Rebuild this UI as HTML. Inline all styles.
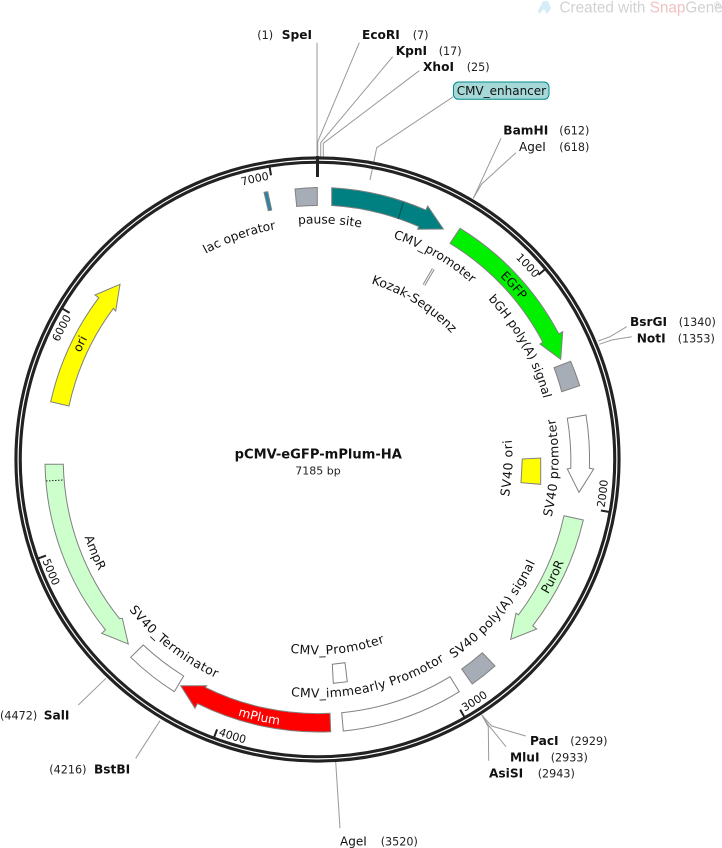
<!DOCTYPE html>
<html><head><meta charset="utf-8"><style>
html,body{margin:0;padding:0;background:#fff}
svg{display:block}
text{font-family:"DejaVu Sans","Liberation Sans",sans-serif;fill:#111}
.n{font-size:11.2px;fill:#222}
.b{font-size:12.2px;font-weight:bold}
.r{font-size:12px}
.f{font-size:12.3px;text-anchor:middle}
.g{font-size:12.5px;letter-spacing:.4px;text-anchor:middle}
.t{font-size:11px;text-anchor:middle}
.l{stroke:#999;stroke-width:1;fill:none}
.s{stroke:#808080;stroke-width:1}
.k{stroke:#222;stroke-width:2;fill:none}
</style></head><body>
<svg width="722" height="848" viewBox="0 0 722 848" xmlns="http://www.w3.org/2000/svg">
<defs>
<path id="a236" d="M317.5 695.5A236 236 0 1 1 317.5 223.5A236 236 0 1 1 317.5 695.5"/>
<path id="a234" d="M317.5 693.5A234 234 0 1 1 317.5 225.5A234 234 0 1 1 317.5 693.5"/>
<path id="a284" d="M317.5 743.5A284 284 0 1 1 317.5 175.5A284 284 0 1 1 317.5 743.5"/>
<path id="a282" d="M317.5 742A282.5 282.5 0 1 1 317.5 177A282.5 282.5 0 1 1 317.5 742"/>
<path id="a260" d="M317.5 719.5A260 260 0 1 1 317.5 199.5A260 260 0 1 1 317.5 719.5"/>
<path id="a258" d="M317.5 718A258.5 258.5 0 1 1 317.5 201A258.5 258.5 0 1 1 317.5 718"/>
<path id="a184" d="M317.5 643.5A184 184 0 1 1 317.5 275.5A184 184 0 1 1 317.5 643.5"/>
<path id="c245" d="M317.5 214A245.5 245.5 0 1 0 317.5 705A245.5 245.5 0 1 0 317.5 214"/>
<path id="c293" d="M317.5 166.5A293 293 0 1 0 317.5 752.5A293 293 0 1 0 317.5 166.5"/>
<path id="c241" d="M317.5 218.5A241 241 0 1 0 317.5 700.5A241 241 0 1 0 317.5 218.5"/>
<path id="c268" d="M317.5 191.5A268 268 0 1 0 317.5 727.5A268 268 0 1 0 317.5 191.5"/>
<path id="c238" d="M317.5 221.5A238 238 0 1 0 317.5 697.5A238 238 0 1 0 317.5 221.5"/>
<path id="c195" d="M317.5 264.5A195 195 0 1 0 317.5 654.5A195 195 0 1 0 317.5 264.5"/>
<path id="c267" d="M317.5 192.5A267 267 0 1 0 317.5 726.5A267 267 0 1 0 317.5 192.5"/>
<path id="c291" d="M317.5 168.5A291 291 0 1 0 317.5 750.5A291 291 0 1 0 317.5 168.5"/>
<path id="c292" d="M317.5 167.5A292 292 0 1 0 317.5 751.5A292 292 0 1 0 317.5 167.5"/>
</defs>

<!-- watermark -->
<path d="M543 1L548 1L551 8L547 14L544 9L539 14L538 11Z" fill="#d6ecf6"/>
<text x="559.5" y="12.5" style="font-family:'Liberation Sans',sans-serif;font-size:15.3px;fill:#d2d2d2">Created with <tspan style="fill:#f0c2c2">Snap</tspan>Gene</text>
<text x="714" y="8" style="font-family:'Liberation Sans',sans-serif;font-size:9px;fill:#cfcfcf">®</text>

<!-- enzyme lines -->
<path class="l" d="M317 42.7V157"/>
<path class="l" d="M359.3 42.7L317.7 141.7V157"/>
<path class="l" d="M392.7 56.7L320.7 142.7V157"/>
<path class="l" d="M419.3 70.7L323.3 143.3V158"/>
<path class="l" d="M453.3 96.7L376.7 147.7L370 180"/>
<path class="l" d="M501 138.3L473.3 198.3"/>
<path class="l" d="M516 152.7L481.7 184L473.3 198.3"/>
<path class="l" d="M626.7 326.7L610 336.7L598.3 341"/>
<path class="l" d="M631.7 336.7L611.7 340L599.3 344.3"/>
<path class="l" d="M525.7 736L491.7 726L481.7 715"/>
<path class="l" d="M506 746.7L488.3 725L481.7 715"/>
<path class="l" d="M488.7 760.7L488.3 726.7L482.3 716"/>
<path class="l" d="M340 828.3L335.7 762"/>
<path class="l" d="M78.3 705L106 678.3"/>
<path class="l" d="M135.7 758.3L160 720.7"/>

<!-- backbone -->
<circle cx="317.5" cy="459.5" r="299.4" fill="none" stroke="#222" stroke-width="7.4"/>
<circle cx="317.5" cy="459.5" r="299.4" fill="none" stroke="#fff" stroke-width="1.2"/>

<!-- ticks -->
<path d="M317.5 156V177" stroke="#222" stroke-width="3" fill="none"/>
<path class="k" d="M544.6 269.6L538.5 274.8"/>
<path class="k" d="M608.8 511.9L600.9 510.5"/>
<path class="k" d="M464.2 716.6L460.2 709.7"/>
<path class="k" d="M214.3 736.9L217.1 729.4"/>
<path class="k" d="M38.5 558.3L46 555.6"/>
<path class="k" d="M62.7 308.8L69.6 312.9"/>
<path class="k" d="M269.7 167.4L271 175.3"/>

<!-- features -->
<path class="s" fill="#a7adb6" d="M295 189A272 272 0 0 1 317.3 187.5V205.5A254 254 0 0 0 296.7 206.4Z"/>
<path class="s" fill="#2a84a6" d="M264 192.3L267.7 191.7L271.7 210L268.3 210.7Z"/>
<path class="s" fill="#008080" stroke="#666" d="M331.7 187.7A272 272 0 0 1 425.9 210.1L427.7 206L443.3 229L417.7 229.3L418.8 226.6A254 254 0 0 0 331.7 205.5Z"/>
<path d="M403.3 202.3L398.3 219" stroke="#004f4f" stroke-width="1" fill="none"/>
<path class="s" fill="#00f000" d="M460 228.3A272 272 0 0 1 558.8 333.9L562.7 331.7L560.7 359.3L540 344L542.8 342.2A254 254 0 0 0 450 243.3Z"/>
<path class="s" fill="#a7adb6" d="M570.7 361.3A272 272 0 0 1 579.7 385.7L561.7 391.7A254 254 0 0 0 554 367.7Z"/>
<path class="s" fill="#fff" d="M586 415A272 272 0 0 1 589.4 468.3L593.7 469L579 492.3L567.3 469L570.8 468.3A254 254 0 0 0 567.3 418.3Z"/>
<path class="s" fill="#ffff00" d="M522.3 459L540.7 458L540.7 484.3L521 482.7Z"/>
<path class="s" fill="#ccffcc" d="M583.3 520A272 272 0 0 1 532.7 625.8L536.7 629L510.7 639.3L516 613.3L518.5 614.8A254 254 0 0 0 564 515.7Z"/>
<path class="s" fill="#a7adb6" d="M495 666A272 272 0 0 1 472.3 684L461.7 669A254 254 0 0 0 482.3 652.7Z"/>
<path class="s" fill="#fff" d="M459.3 691.7A272 272 0 0 1 343.3 731L341.7 712.7A254 254 0 0 0 450 676.7Z"/>
<path class="s" fill="#fff" d="M332.3 664.3L345 662.7L347.3 681.7L333.3 683.3Z"/>
<path class="s" fill="#ff0000" stroke="#666" d="M330.7 731.7A272 272 0 0 1 197.4 703.6L195 708.3L180.7 685.7L206.7 685.7L205.4 687.4A254 254 0 0 0 330 713.3Z"/>
<path class="s" fill="#fff" d="M174.3 691.7A272 272 0 0 1 130.7 657.3L143.3 645A254 254 0 0 0 183.7 676Z"/>
<path class="s" fill="#ccffcc" d="M63.3 464.3L45 464.3A272 272 0 0 0 105.5 629.9L101.7 633.3L128.3 644L122.3 618.3L119.6 618.7A254 254 0 0 1 63.3 464.3Z"/>
<path d="M46 481L63.3 480" stroke="#222" stroke-width="1" stroke-dasharray="1.5 1.5" fill="none"/>
<path class="s" fill="#ffff00" d="M50.7 401.7A272 272 0 0 1 98.8 297.7L95 295L120 284.3L115.7 311L113.3 308.4A254 254 0 0 0 69 406Z"/>
<!-- Kozak -->
<path d="M433.3 269L424 285" stroke="#888" stroke-width="3" fill="none"/>
<path d="M433.3 269L424 285" stroke="#fff" stroke-width="1" fill="none"/>

<!-- CMV_enhancer box -->
<rect x="453.5" y="82" width="95.5" height="17.3" rx="5" ry="5" fill="#a6d8d8" stroke="#008b8b" stroke-width="1"/>
<text x="456.7" y="95.2" style="font-size:12px">CMV_enhancer</text>

<!-- clockwise labels -->
<text class="f"><textPath href="#a236" startOffset="50.83%">pause site</textPath></text>
<text class="f"><textPath href="#a234" startOffset="58.33%">CMV_promoter</textPath></text>
<text class="f"><textPath href="#a234" startOffset="44.61%">lac operator</textPath></text>
<text class="t"><textPath href="#a284" startOffset="46.5%">7000</textPath></text>
<text class="t"><textPath href="#a284" startOffset="32.56%">6000</textPath></text>
<text class="t"><textPath href="#a282" startOffset="63.14%">1000</textPath></text>
<text class="f"><textPath href="#a260" startOffset="32.22%">ori</textPath></text>
<text class="f"><textPath href="#a258" startOffset="63.44%">EGFP</textPath></text>
<text class="f"><textPath href="#a234" startOffset="66.9%">bGH poly(A) signal</textPath></text>
<text class="f" style="font-size:12.6px"><textPath href="#a184" startOffset="58.85%">Kozak-Sequenz</textPath></text>

<!-- counter-clockwise labels -->
<text class="f"><textPath href="#c245" startOffset="31.31%">AmpR</textPath></text>
<text class="t"><textPath href="#c293" startOffset="31.36%">5000</textPath></text>
<text class="g"><textPath href="#c241" startOffset="39.4%">SV40_Terminator</textPath></text>
<text class="t"><textPath href="#c293" startOffset="45.25%">4000</textPath></text>
<text class="f" style="fill:#fff"><textPath href="#c268" startOffset="46.46%">mPlum</textPath></text>
<text class="g" style="letter-spacing:.3px"><textPath href="#c238" startOffset="53.6%">CMV_immearly Promotor</textPath></text>
<text class="g"><textPath href="#c195" startOffset="51.7%">CMV_Promoter</textPath></text>
<text class="g" style="letter-spacing:.3px"><textPath href="#c241" startOffset="63.75%">SV40 poly(A) signal</textPath></text>
<text class="f"><textPath href="#c267" startOffset="67.64%">PuroR</textPath></text>
<text class="t"><textPath href="#c291" startOffset="73.11%">2000</textPath></text>
<text class="t"><textPath href="#c292" startOffset="59.17%">3000</textPath></text>
<text class="g"><textPath href="#c241" startOffset="74.44%">SV40 promoter</textPath></text>
<text class="g" style="letter-spacing:.7px"><textPath href="#c195" startOffset="74.3%">SV40 ori</textPath></text>

<!-- site labels -->
<text class="n" x="257.3" y="39">(1)</text><text class="b" x="281.7" y="39">SpeI</text>
<text class="b" x="362" y="39">EcoRI</text><text class="n" x="412.7" y="39">(7)</text>
<text class="b" x="395.7" y="55">KpnI</text><text class="n" x="438.7" y="55">(17)</text>
<text class="b" x="423" y="71">XhoI</text><text class="n" x="466.7" y="71">(25)</text>
<text class="b" x="503.3" y="134.3">BamHI</text><text class="n" x="559.3" y="134.3">(612)</text>
<text class="r" x="519" y="151">AgeI</text><text class="n" x="559.3" y="151">(618)</text>
<text class="b" x="630" y="326">BsrGI</text><text class="n" x="678.7" y="326">(1340)</text>
<text class="b" x="636.7" y="342.3">NotI</text><text class="n" x="677.7" y="342.3">(1353)</text>
<text class="b" x="530" y="745">PacI</text><text class="n" x="570.3" y="745">(2929)</text>
<text class="b" x="510" y="761.7">MluI</text><text class="n" x="550.7" y="761.7">(2933)</text>
<text class="b" x="489" y="777.7">AsiSI</text><text class="n" x="537.7" y="777.7">(2943)</text>
<text class="r" x="340" y="845.7">AgeI</text><text class="n" x="380.7" y="845.7">(3520)</text>
<text class="n" x="0" y="719.3">(4472)</text><text class="b" x="43.7" y="719.3">SalI</text>
<text class="n" x="49.3" y="773.3">(4216)</text><text class="b" x="94" y="773.3">BstBI</text>

<!-- centre -->
<text x="318.3" y="458.3" text-anchor="middle" style="font-size:13.1px;font-weight:bold">pCMV-eGFP-mPlum-HA</text>
<text x="318" y="474.3" text-anchor="middle" style="font-size:11px;fill:#222">7185 bp</text>
</svg>
</body></html>
